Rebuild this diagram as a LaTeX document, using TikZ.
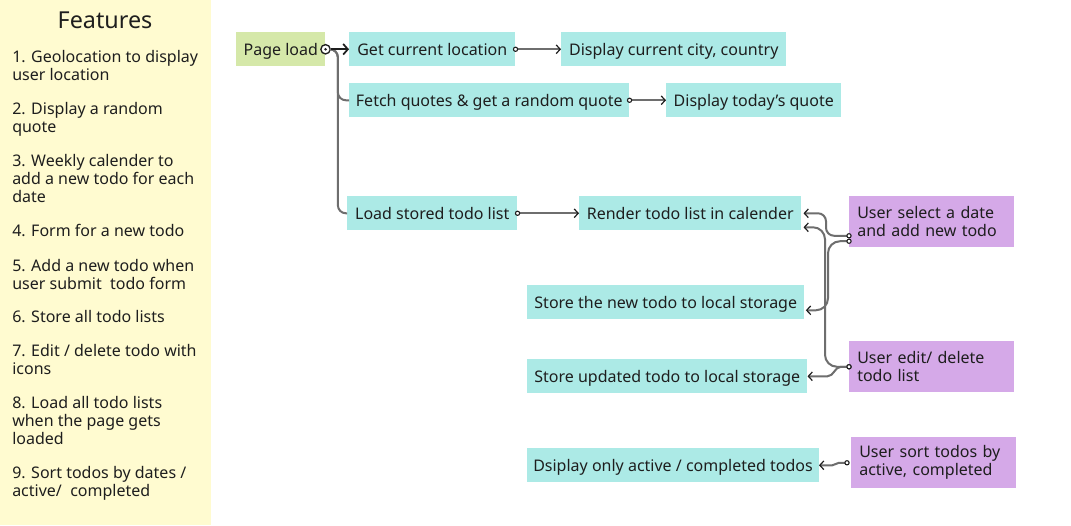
\documentclass[tikz,border=0pt]{standalone}
\usepackage{fontspec}
\setmainfont{Noto Sans}
\usetikzlibrary{arrows.meta}
\definecolor{cyanbox}{HTML}{ACEAE6}
\definecolor{greenbox}{HTML}{D5E8A9}
\definecolor{purplebox}{HTML}{D5A9E8}
\definecolor{panel}{HTML}{FFFBD0}
\definecolor{wiregray}{HTML}{6E6E6E}
\definecolor{ink}{HTML}{1E1E1E}
\begin{document}
\begin{tikzpicture}[x=0.75pt,y=-0.75pt,
  txt/.style={font=\fontsize{12}{13.5}\selectfont, text=ink},
  bx/.style={txt, anchor=north west, inner xsep=4.5pt, inner ysep=0pt, minimum height=25.5pt, text height=10.5pt, text depth=1.5pt},
  cbx/.style={bx, fill=cyanbox},
  gbx/.style={bx, fill=greenbox},
  pbx/.style={txt, anchor=north west, fill=purplebox, align=left, text width=111.75pt, inner xsep=6pt, inner ysep=0pt, minimum height=38.25pt},
  wpx/.style={minimum width=#1*0.75pt},
  feat/.style={txt, anchor=base west, align=left, inner sep=0pt},
  wireline/.style={draw=wiregray, line width=1.5pt},
  pa/.style={arrows={Circle[open,fill=white,length=4pt,width=4pt,line width=0.8pt,color=ink]-Straight Barb[length=3pt,width=6.5pt,line width=0.9pt,color=ink]}, shorten <=-2pt},
]
\useasboundingbox (0,0) rectangle (1071,525);
\fill[white] (0,0) rectangle (1071,525);
% left panel
\fill[panel] (0,0) rectangle (211,525);
\node[font=\fontsize{17.5}{21}\selectfont, text=ink, anchor=base, inner sep=0pt] (title) at (105,28) {Features};
\node[feat] (f1) at (12,80) {1. Geolocation to display\\user location};
\node[feat] (f2) at (12,132) {2. Display a random\\quote};
\node[feat] (f3) at (12,202) {3. Weekly calender to\\add a new todo for each\\date};
\node[feat] (f4) at (12,236) {4. Form for a new todo};
\node[feat] (f5) at (12,289) {5. Add a new todo when\\user submit\ \ todo form};
\node[feat] (f6) at (12,322) {6. Store all todo lists};
\node[feat] (f7) at (12,374) {7. Edit / delete todo with\\icons};
\node[feat] (f8) at (12,444) {8. Load all todo lists\\when the page gets\\loaded};
\node[feat] (f9) at (12,496) {9. Sort todos by dates /\\active/\ \ completed};
% boxes
\node[gbx, wpx=89] (page) at (236,32) {Page load};
\node[cbx, wpx=166] (getloc) at (349,32) {Get current location};
\node[cbx, wpx=225] (dispcity) at (561,32) {Display current city, country};
\node[cbx, wpx=280] (fetch) at (349,83) {Fetch quotes \& get a random quote};
\node[cbx, wpx=175] (dispquote) at (666,83) {Display today’s quote};
\node[cbx, wpx=170] (load) at (347,196) {Load stored todo list};
\node[cbx, wpx=222] (render) at (579,196) {Render todo list in calender};
\node[pbx, wpx=165] (select) at (849,196) {User select a date\\and add new todo};
\node[cbx, wpx=277] (storenew) at (527,285) {Store the new todo to local storage};
\node[cbx, wpx=280] (storeupd) at (527,359) {Store updated todo to local storage};
\node[pbx, wpx=165] (edit) at (849,341) {User edit/ delete\\todo list};
\node[cbx, wpx=290] (dsiplay) at (527,448) {Dsiplay only active / completed todos};
\node[pbx, wpx=165] (sort) at (851,437) {User sort todos by\\active, completed};
% page load connectors
\node[circle, draw=ink, line width=1pt, fill=white, minimum size=7pt, inner sep=0pt] (ring) at (page.east) {};
\fill[ink] (ring.center) circle (1.1pt);
\draw[wireline, rounded corners=6pt] (ring.east) -- ++(7,0) |- (fetch.west);
\draw[wireline, rounded corners=6pt] (ring.east) -- ++(7,0) |- (load.west);
\draw[draw=ink, line width=1.5pt, arrows={-Straight Barb[length=3.5pt,width=8pt,line width=1.3pt]}] (ring.east) -- (getloc.west);
% simple connectors
\draw[wireline, pa] (getloc.east) -- (dispcity.west);
\draw[wireline, pa] (fetch.east) -- (dispquote.west);
\draw[wireline, pa] (load.east) -- (render.west);
% user select
\draw[wireline, pa, rounded corners=6pt] ([yshift=-10.5pt]select.west) -- ++(-23,0) |- ([xshift=1.5pt]render.east);
\draw[wireline, pa, rounded corners=9pt] ([yshift=-14.6pt]select.west) -- ++(-21,0) |- ([xshift=1pt,yshift=-6pt]storenew.east);
% user edit
\draw[wireline, pa, rounded corners=9pt] (edit.west) -- ++(-24,0) |- ([xshift=1.5pt,yshift=-10.5pt]render.east);
\draw[wireline, pa] (edit.west) -- ++(-8,0) to[out=180,in=0] ([xshift=15pt]storeupd.east) -- (storeupd.east);
% user sort
\draw[wireline, pa, shorten <=1pt] (sort.west) -- ++(-12,0) to[out=180,in=0] ([xshift=10pt]dsiplay.east) -- (dsiplay.east);
\end{tikzpicture}
\end{document}
